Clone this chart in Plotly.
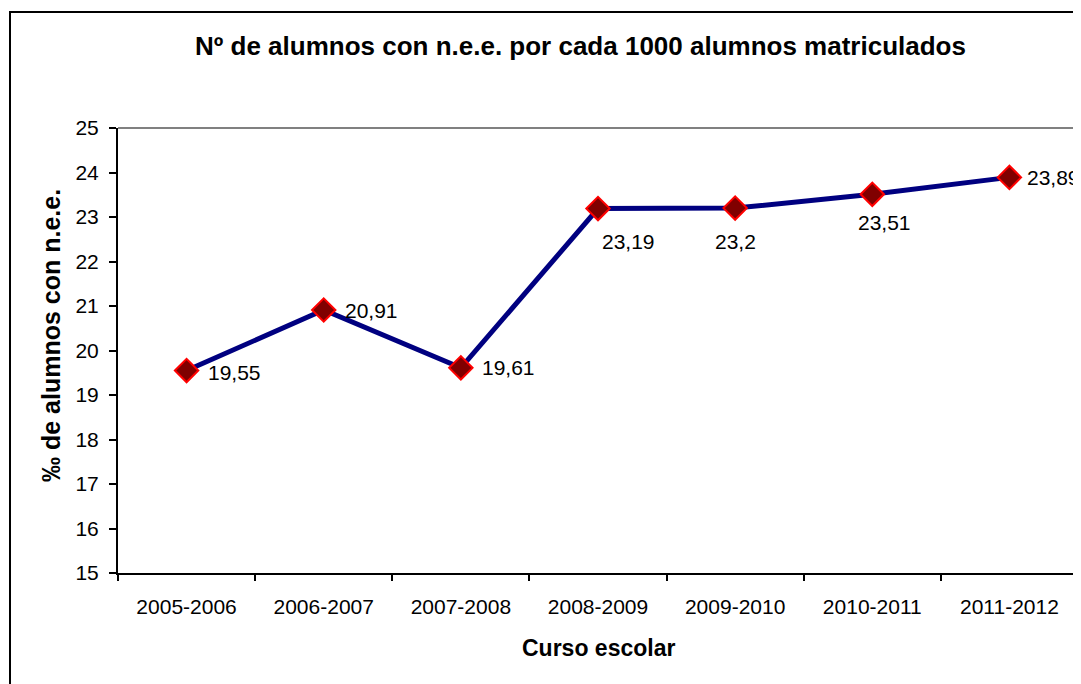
import plotly.graph_objects as go

cursos = ["2005-2006", "2006-2007", "2007-2008", "2008-2009", "2009-2010", "2010-2011", "2011-2012"]
valores = [19.55, 20.91, 19.61, 23.19, 23.2, 23.51, 23.89]
etiquetas = ["19,55", "20,91", "19,61", "23,19", "23,2", "23,51", "23,89"]
y_ticks = list(range(15, 26))

titulo = "Nº de alumnos con n.e.e. por cada 1000 alumnos matriculados"
titulo_y = "‰ de alumnos con n.e.e."
titulo_x = "Curso escolar"

# label placement (pixel shifts) per point
label_shift = [(48, -2), (48, 0), (48, 0), (30, -33), (0, -33), (12, -28), (44, 0)]

FONT = "Liberation Sans, Arial, sans-serif"

fig = go.Figure()
fig.add_trace(go.Scatter(
    x=cursos, y=valores, mode="lines+markers",
    line=dict(color="#000080", width=5),
    marker=dict(symbol="diamond", size=18, color="#800000",
                line=dict(color="#ff0000", width=2)),
    cliponaxis=False, showlegend=False, hoverinfo="skip",
))

for c, v, t, (dx, dy) in zip(cursos, valores, etiquetas, label_shift):
    fig.add_annotation(x=c, y=v, text=t, showarrow=False, xshift=dx, yshift=dy,
                       font=dict(family=FONT, size=21, color="black"))

# chart title and axis titles
fig.add_annotation(xref="paper", yref="paper", x=0.48125, y=1.1843, text="<b>" + titulo + "</b>",
                   showarrow=False, xanchor="center", yanchor="middle",
                   font=dict(family=FONT, size=26, color="black"))
fig.add_annotation(xref="paper", yref="paper", x=-0.0698, y=0.5348, text="<b>" + titulo_y + "</b>",
                   textangle=-90, showarrow=False, xanchor="center", yanchor="middle",
                   font=dict(family=FONT, size=25, color="black"))
fig.add_annotation(xref="paper", yref="paper", x=0.5, y=-0.1685, text="<b>" + titulo_x + "</b>",
                   showarrow=False, xanchor="center", yanchor="middle",
                   font=dict(family=FONT, size=23, color="black"))

# outer chart border
fig.add_shape(type="rect", xref="paper", yref="paper",
              x0=-0.1125, x1=1.2, y0=-0.4, y1=1.2607,
              line=dict(color="black", width=2), layer="below")
# gray top/right frame of plot area
fig.add_shape(type="line", xref="paper", yref="paper", x0=0, x1=1, y0=1, y1=1,
              line=dict(color="#808080", width=2))
fig.add_shape(type="line", xref="paper", yref="paper", x0=1, x1=1, y0=0, y1=1,
              line=dict(color="#808080", width=2))

fig.update_layout(
    width=1073, height=676,
    margin=dict(l=110, r=3, t=120, b=111),
    paper_bgcolor="white", plot_bgcolor="white",
    font=dict(family=FONT, size=21, color="black"),
    xaxis=dict(
        type="category", showgrid=False, showline=True, linecolor="black", linewidth=2,
        ticks="outside", tickson="boundaries", ticklen=6, tickwidth=2, tickcolor="black",
        tickfont=dict(family=FONT, size=21), ticklabelstandoff=14,
        range=[-0.5, 6.5], zeroline=False,
    ),
    yaxis=dict(
        range=[15, 25], tickvals=y_ticks, showgrid=False, showline=True,
        linecolor="black", linewidth=2, ticks="outside", ticklen=7, tickwidth=2,
        tickcolor="black", tickfont=dict(family=FONT, size=21), zeroline=False,
        ticklabelstandoff=6,
    ),
)

fig.write_html("out.html")
